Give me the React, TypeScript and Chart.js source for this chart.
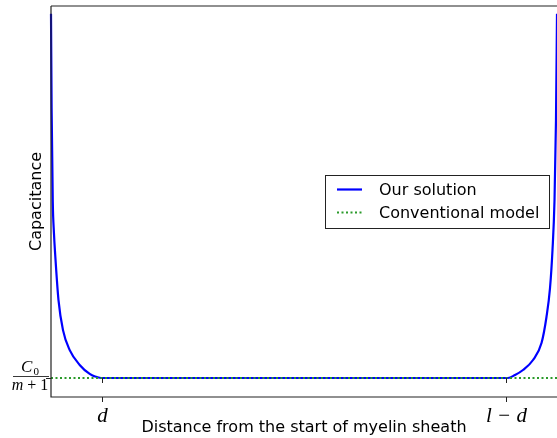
import React, { useEffect, useRef } from "react";
import { Chart, registerables } from "chart.js";

Chart.register(...registerables);

// Our solution: capacitance along the myelin sheath (x in units of l)
const solutionX = [0, 0.0012, 0.0035, 0.0058, 0.0085, 0.0148, 0.0237, 0.037, 0.0567, 0.0765, 0.087, 0.0988, 0.5, 0.9032, 0.917, 0.9328, 0.9526, 0.9694, 0.9792, 0.9862, 0.9911, 0.9951, 0.998, 1.0];
const solutionY = [0.98, 0.74, 0.5, 0.42, 0.36, 0.248, 0.171, 0.12, 0.082, 0.059, 0.0524, 0.0486, 0.0486, 0.0486, 0.0562, 0.0691, 0.0946, 0.1381, 0.2046, 0.2788, 0.376, 0.504, 0.708, 0.98];
// Conventional model: constant C0/(m+1)
const conventionalX = [0, 1];
const conventionalY = [0.0486, 0.0486];

const seriesLabels = ["Our solution", "Conventional model"];
const xTickValues = [0.1, 0.9];
const xTickLabels = ["d", "l − d"];
const yTickValue = 0.0486;
const xTitle = "Distance from the start of myelin sheath";
const yTitle = "Capacitance";

const SANS = '"DejaVu Sans", sans-serif';
const SERIF = '"Liberation Serif", "DejaVu Serif", serif';

export default function App() {
  const ref = useRef<HTMLCanvasElement | null>(null);

  useEffect(() => {
    const canvas = ref.current!;
    const deco = {
      id: "deco",
      afterDraw(chart: any) {
        const ctx = chart.ctx as CanvasRenderingContext2D;
        const a = chart.chartArea;
        const xs = chart.scales.x;
        const ys = chart.scales.y;
        ctx.save();
        // spines
        ctx.strokeStyle = "#222";
        ctx.lineWidth = 1.2;
        ctx.beginPath();
        ctx.moveTo(a.left, a.top);
        ctx.lineTo(a.left, a.bottom);
        ctx.lineTo(a.right + 2, a.bottom);
        ctx.moveTo(a.left, a.top);
        ctx.lineTo(a.right + 2, a.top);
        ctx.stroke();
        // x ticks
        ctx.lineWidth = 1;
        ctx.strokeStyle = "#222";
        xTickValues.forEach((v, i) => {
          const px = Math.round(xs.getPixelForValue(v)) + 0.5;
          ctx.beginPath();
          ctx.moveTo(px, a.bottom);
          ctx.lineTo(px, a.bottom + 5);
          ctx.moveTo(px, ys.getPixelForValue(yTickValue));
          ctx.lineTo(px, ys.getPixelForValue(yTickValue) + 5);
          ctx.stroke();
          ctx.fillStyle = "#000";
          ctx.font = `italic 21px ${SERIF}`;
          ctx.textAlign = "center";
          ctx.textBaseline = "alphabetic";
          ctx.fillText(xTickLabels[i], px, a.bottom + 25);
        });
        // y tick
        const py = Math.round(ys.getPixelForValue(yTickValue)) + 0.5;
        ctx.beginPath();
        ctx.moveTo(a.left - 5, py);
        ctx.lineTo(a.left, py);
        ctx.stroke();
        // fraction label C0/(m+1)
        ctx.fillStyle = "#000";
        ctx.textBaseline = "alphabetic";
        ctx.textAlign = "left";
        ctx.font = `italic 17px ${SERIF}`;
        const cw = ctx.measureText("C").width;
        ctx.font = `11px ${SERIF}`;
        const zw = ctx.measureText("0").width;
        const numW = cw + zw + 1;
        const cx = 30;
        ctx.font = `italic 17px ${SERIF}`;
        ctx.fillText("C", cx - numW / 2, py - 7);
        ctx.font = `11px ${SERIF}`;
        ctx.fillText("0", cx - numW / 2 + cw + 1, py - 4);
        ctx.beginPath();
        ctx.lineWidth = 0.9;
        ctx.moveTo(13, py - 2);
        ctx.lineTo(49, py - 2);
        ctx.stroke();
        ctx.font = `italic 16px ${SERIF}`;
        const mw = ctx.measureText("m").width;
        ctx.font = `16px ${SERIF}`;
        const rest = " + 1";
        const rw = ctx.measureText(rest).width;
        const dx = cx - (mw + rw) / 2;
        ctx.font = `italic 16px ${SERIF}`;
        ctx.fillText("m", dx, py + 11);
        ctx.font = `16px ${SERIF}`;
        ctx.fillText(rest, dx + mw, py + 11);
        // axis titles
        ctx.font = `16px ${SANS}`;
        ctx.textAlign = "center";
        ctx.textBaseline = "middle";
        ctx.fillText(xTitle, (a.left + a.right) / 2, 428);
        ctx.save();
        ctx.translate(37, (a.top + a.bottom) / 2);
        ctx.rotate(-Math.PI / 2);
        ctx.fillText(yTitle, 0, 0);
        ctx.restore();
        // legend
        const lx = 325.5, ly = 175.5, lw = 224, lh = 53;
        ctx.fillStyle = "#fff";
        ctx.fillRect(lx, ly, lw, lh);
        ctx.strokeStyle = "#222";
        ctx.lineWidth = 1;
        ctx.strokeRect(lx, ly, lw, lh);
        const ds = chart.data.datasets;
        const rows = [189.5, 212.5];
        rows.forEach((ry, i) => {
          const d = ds[i];
          ctx.beginPath();
          ctx.strokeStyle = d.borderColor;
          ctx.lineWidth = d.borderWidth;
          ctx.setLineDash(d.borderDash || []);
          ctx.moveTo(337, ry);
          ctx.lineTo(362, ry);
          ctx.stroke();
          ctx.setLineDash([]);
          ctx.fillStyle = "#000";
          ctx.font = `16px ${SANS}`;
          ctx.textAlign = "left";
          ctx.textBaseline = "middle";
          ctx.fillText(d.label, 379, ry + 1);
        });
        ctx.restore();
      },
    };

    const chart = new Chart(canvas, {
      type: "line",
      data: {
        datasets: [
          {
            label: seriesLabels[0],
            data: solutionX.map((x, i) => ({ x, y: solutionY[i] })),
            borderColor: "#0000ff",
            borderWidth: 2.2,
            pointRadius: 0,
            cubicInterpolationMode: "monotone",
            fill: false,
            order: 2,
            clip: 3,
          },
          {
            label: seriesLabels[1],
            data: conventionalX.map((x, i) => ({ x, y: conventionalY[i] })),
            borderColor: "#2a9a2a",
            borderWidth: 2.2,
            borderDash: [2, 2.5],
            pointRadius: 0,
            fill: false,
            order: 1,
            clip: 3,
          },
        ],
      },
      options: {
        responsive: false,
        animation: false,
        layout: { padding: { left: 51, top: 6, right: 0, bottom: 41 } },
        scales: {
          x: { type: "linear", min: 0, max: 1, display: false },
          y: { type: "linear", min: 0, max: 1, display: false },
        },
        plugins: { legend: { display: false }, tooltip: { enabled: false } },
      },
      plugins: [deco],
    } as any);
    return () => chart.destroy();
  }, []);

  return (
    <div style={{ position: "absolute", left: 0, top: 0, width: 557, height: 438, background: "#fff" }}>
      <canvas ref={ref} width={557} height={438} />
    </div>
  );
}
